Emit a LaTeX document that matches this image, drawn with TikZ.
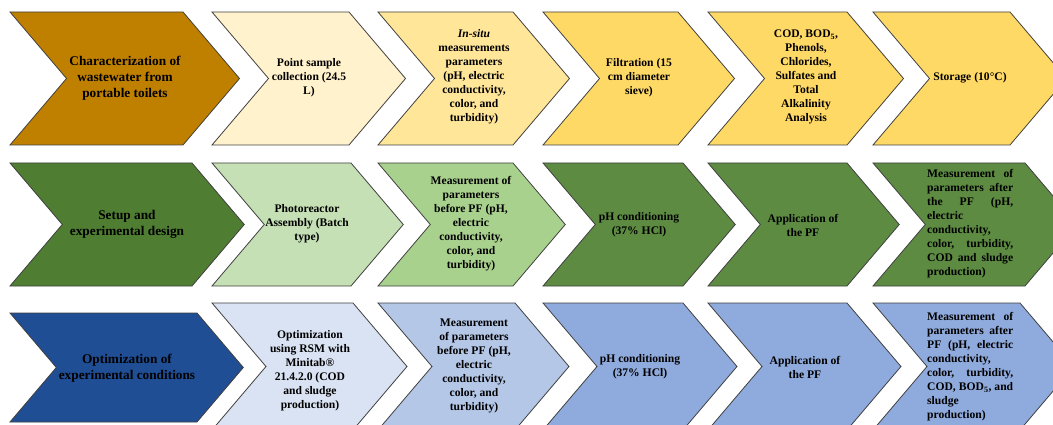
\documentclass[tikz,border=0pt]{standalone}
\usepackage{fontspec}
\setmainfont{Liberation Serif}

\definecolor{goldA}{HTML}{BF8000}
\definecolor{goldB}{HTML}{FFF2CC}
\definecolor{goldC}{HTML}{FFE699}
\definecolor{goldD}{HTML}{FFD966}
\definecolor{greenA}{HTML}{4F7D31}
\definecolor{greenB}{HTML}{C5E0B4}
\definecolor{greenC}{HTML}{A9D18E}
\definecolor{greenD}{HTML}{5D8B42}
\definecolor{blueA}{HTML}{1F4E95}
\definecolor{blueB}{HTML}{DAE3F3}
\definecolor{blueC}{HTML}{B4C7E7}
\definecolor{blueD}{HTML}{8FAADC}

\tikzset{
    chevline/.style={draw=black!75, line width=0.8pt},
    steptext/.style={align=center, inner sep=0pt,
        font=\bfseries\fontsize{11.6}{14}\selectfont},
    headtext/.style={steptext, font=\bfseries\fontsize{13.3}{16}\selectfont},
    justtext/.style={steptext, align=justify, text width=86pt, anchor=west,
        execute at begin node={\tolerance=10000\hbadness=10000\hyphenpenalty=10000}}
}

% left, right, top, bottom, fill
\newcommand{\chevstep}[5]{%
    \draw[chevline, fill=#5] (#1,#3) -- (#2,#3) -- ({#2+0.425*(#4-#3)},{(#3+#4)/2})
        -- (#2,#4) -- (#1,#4) -- ({#1+0.425*(#4-#3)},{(#3+#4)/2}) -- cycle;}

\begin{document}
\begin{tikzpicture}[x=1pt, y=-1pt]
\useasboundingbox (0,0) rectangle (1053,425);
\clip (0,0) rectangle (1053,425);

% first row
\chevstep{10}{183}{12}{145}{goldA}
\chevstep{212}{349}{12}{145}{goldB}
\chevstep{378}{513}{12}{145}{goldC}
\chevstep{543}{678}{12}{145}{goldD}
\chevstep{708}{847}{12}{145}{goldD}
\chevstep{873}{1010}{12}{145}{goldD}

\node[headtext] (charac) at (125,78) {Characterization of\\wastewater from\\portable toilets};
\node[steptext] (sample) at (309,78) {Point sample\\collection (24.5\\L)};
\node[steptext] (insitu) at (474,77) {\textit{In-situ}\\measurements\\parameters\\(pH, electric\\conductivity,\\color, and\\turbidity)};
\node[steptext] (filtr) at (639,78) {Filtration (15\\cm diameter\\sieve)};
\node[steptext] (cod) at (806,77) {COD, BOD\textsubscript{5},\\Phenols,\\Chlorides,\\Sulfates and\\Total\\Alkalinity\\Analysis};
\node[steptext] (storage) at (970,78) {Storage (10°C)};

% second row
\chevstep{10}{192}{163}{286}{greenA}
\chevstep{212}{351}{163}{286}{greenB}
\chevstep{378}{513}{163}{286}{greenC}
\chevstep{543}{683}{163}{286}{greenD}
\chevstep{708}{847}{163}{286}{greenD}
\chevstep{873}{1025}{163}{286}{greenD}

\node[headtext] (setup) at (127,224) {Setup and\\experimental design};
\node[steptext] (reactor) at (307,224) {Photoreactor\\Assembly (Batch\\type)};
\node[steptext] (before) at (471,224) {Measurement of\\parameters\\before PF (pH,\\electric\\conductivity,\\color, and\\turbidity)};
\node[steptext] (phcond) at (639,225) {pH conditioning\\(37\% HCl)};
\node[steptext] (apply) at (803,225) {Application of\\the PF};
\node[justtext] (after) at (927,224) {Measurement of\linebreak parameters after\linebreak the PF (pH,\linebreak electric\newline conductivity,\newline color, turbidity,\linebreak COD and sludge\linebreak production)};

% third row
\chevstep{10}{197}{313}{422}{blueA}
\chevstep{212}{353}{303}{430}{blueB}
\chevstep{378}{515}{303}{430}{blueC}
\chevstep{543}{683}{303}{430}{blueD}
\chevstep{708}{847}{303}{430}{blueD}
\chevstep{873}{1020}{303}{430}{blueD}

\node[headtext] (optim) at (127,368) {Optimization of\\experimental conditions};
\node[steptext] (rsm) at (310,371) {Optimization\\using RSM with\\Minitab®\\21.4.2.0 (COD\\and sludge\\production)};
\node[steptext] (beforeB) at (474,366) {Measurement\\of parameters\\before PF (pH,\\electric\\conductivity,\\color, and\\turbidity)};
\node[steptext] (phcondB) at (640,367) {pH conditioning\\(37\% HCl)};
\node[steptext] (applyB) at (805,367) {Application of\\the PF};
\node[justtext] (afterB) at (927,367) {Measurement of\linebreak parameters after\linebreak PF (pH, electric\linebreak conductivity,\newline color, turbidity,\linebreak COD, BOD\textsubscript{5}, and\linebreak sludge\newline production)};
\end{tikzpicture}
\end{document}
